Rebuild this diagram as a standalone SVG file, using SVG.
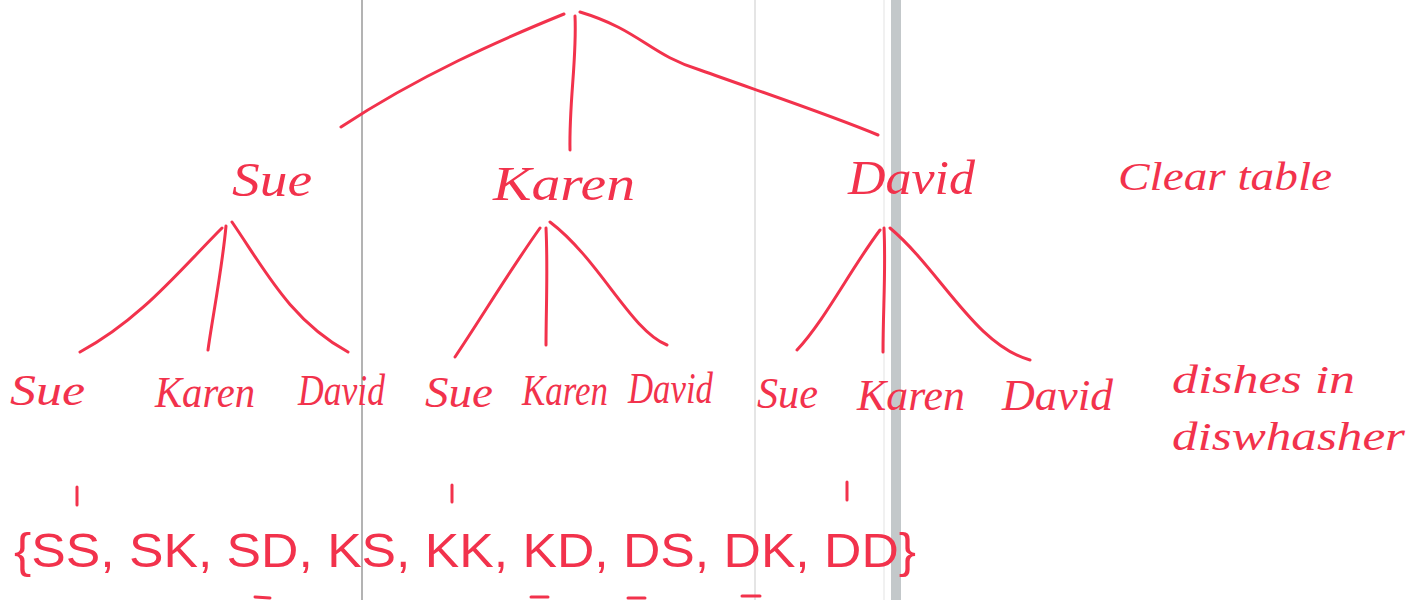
<svg xmlns="http://www.w3.org/2000/svg" width="1413" height="600" viewBox="0 0 1413 600">
<style>
.ink{fill:none;stroke:#f2324c;stroke-width:3;stroke-linecap:round;stroke-linejoin:round}
.t{font-family:"Liberation Serif",serif;font-style:italic;fill:#f2324c}
.s{font-family:"Liberation Sans",sans-serif;fill:#f2324c}
</style>
<rect width="1413" height="600" fill="#ffffff"/>
<g id="paper">
<line x1="362" y1="0" x2="362" y2="600" stroke="#9a9a9a" stroke-width="1.5"/>
<line x1="755" y1="0" x2="755" y2="600" stroke="#dcdcdc" stroke-width="1.5"/>
<line x1="884" y1="0" x2="884" y2="600" stroke="#ececec" stroke-width="1.5"/>
<rect x="891" y="0" width="10" height="600" fill="#c3c8ca"/>
</g>
<g id="connectors">
<path class="ink" d="M564,14 C500,40 420,75 341,127"/>
<path class="ink" d="M575,16 C577,60 569,100 570,150"/>
<path class="ink" d="M580,12 C640,30 650,55 700,70 C770,95 830,115 878,135"/>
<path class="ink" d="M222,228 C180,270 140,320 80,352"/>
<path class="ink" d="M226,226 C222,270 212,320 208,350"/>
<path class="ink" d="M232,222 C265,270 290,320 348,352"/>
<path class="ink" d="M540,228 C510,270 480,320 455,357"/>
<path class="ink" d="M546,228 C548,270 546,310 546,345"/>
<path class="ink" d="M550,222 C600,260 630,330 667,345"/>
<path class="ink" d="M880,230 C850,270 825,320 797,350"/>
<path class="ink" d="M884,228 C886,270 883,310 883,352"/>
<path class="ink" d="M890,228 C940,270 975,345 1030,360"/>
<path class="ink" d="M77,487 L77,505"/>
<path class="ink" d="M452,485 L452,502"/>
<path class="ink" d="M847,482 L847,500"/>
<path class="ink" d="M255,597 L270,598 M531,597 L548,597 M628,598 L645,598 M742,596 L760,596" stroke-width="4"/>
</g>
<g id="level1-sue"><text class="t" x="232" y="196" font-size="48" textLength="80" lengthAdjust="spacingAndGlyphs">Sue</text></g>
<g id="level1-karen"><text class="t" x="493" y="200" font-size="48" textLength="142" lengthAdjust="spacingAndGlyphs">Karen</text></g>
<g id="level1-david"><text class="t" x="848" y="194" font-size="48" textLength="127" lengthAdjust="spacingAndGlyphs">David</text></g>
<g id="label-clear"><text class="t" x="1118" y="190" font-size="40" textLength="214" lengthAdjust="spacingAndGlyphs">Clear table</text></g>
<g id="l2-sue-sue"><text class="t" x="10" y="405" font-size="44" textLength="75" lengthAdjust="spacingAndGlyphs">Sue</text></g>
<g id="l2-sue-karen"><text class="t" x="155" y="407" font-size="44" textLength="100" lengthAdjust="spacingAndGlyphs">Karen</text></g>
<g id="l2-sue-david"><text class="t" x="298" y="405" font-size="44" textLength="87" lengthAdjust="spacingAndGlyphs">David</text></g>
<g id="l2-karen-sue"><text class="t" x="425" y="407" font-size="44" textLength="68" lengthAdjust="spacingAndGlyphs">Sue</text></g>
<g id="l2-karen-karen"><text class="t" x="522" y="405" font-size="44" textLength="86" lengthAdjust="spacingAndGlyphs">Karen</text></g>
<g id="l2-karen-david"><text class="t" x="628" y="403" font-size="44" textLength="85" lengthAdjust="spacingAndGlyphs">David</text></g>
<g id="l2-david-sue"><text class="t" x="757" y="408" font-size="44" textLength="61" lengthAdjust="spacingAndGlyphs">Sue</text></g>
<g id="l2-david-karen"><text class="t" x="857" y="410" font-size="44" textLength="108" lengthAdjust="spacingAndGlyphs">Karen</text></g>
<g id="l2-david-david"><text class="t" x="1002" y="410" font-size="44" textLength="111" lengthAdjust="spacingAndGlyphs">David</text></g>
<g id="label-dishes"><text class="t" x="1172" y="393" font-size="40" textLength="183" lengthAdjust="spacingAndGlyphs">dishes in</text><text class="t" x="1172" y="450" font-size="40" textLength="233" lengthAdjust="spacingAndGlyphs">diswhasher</text></g>
<g id="outcomes"><text class="s" x="14" y="567" font-size="48" textLength="902" lengthAdjust="spacingAndGlyphs">{SS, SK, SD, KS, KK, KD, DS, DK, DD}</text></g>
</svg>
